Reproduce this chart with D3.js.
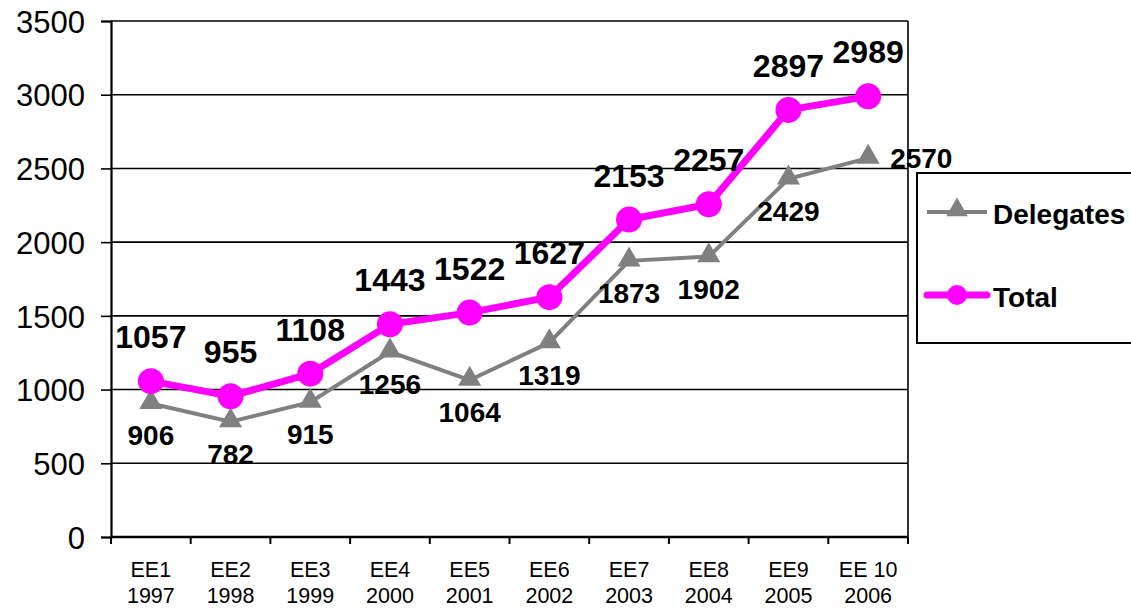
<!DOCTYPE html>
<html><head><meta charset="utf-8">
<script src="https://cdn.jsdelivr.net/npm/d3@7"></script>
<style>html,body{margin:0;padding:0;background:#fff}svg{display:block}</style>
</head><body>
<svg id="c" width="1131" height="610"></svg>
<script>
const editions = ["EE1", "EE2", "EE3", "EE4", "EE5", "EE6", "EE7", "EE8", "EE9", "EE 10"];
const years = ["1997", "1998", "1999", "2000", "2001", "2002", "2003", "2004", "2005", "2006"];
const delegates = [906, 782, 915, 1256, 1064, 1319, 1873, 1902, 2429, 2570];
const total = [1057, 955, 1108, 1443, 1522, 1627, 2153, 2257, 2897, 2989];
const yTicks = [0, 500, 1000, 1500, 2000, 2500, 3000, 3500];
const seriesNames = ["Delegates", "Total"];

const svg = d3.select("#c");
const L = 111, R = 908, T = 21, B = 537;
const font = "Liberation Sans, Arial, sans-serif";

const x = d3.scaleBand().domain(d3.range(editions.length)).range([L, R]);
const y = d3.scaleLinear().domain([0, 3500]).range([B, T]);
const cx = i => x(i) + x.bandwidth() / 2;

// gridlines
svg.append("g").selectAll("line").data(yTicks.filter(d => d > 0)).join("line")
  .attr("x1", L).attr("x2", R).attr("y1", d => y(d)).attr("y2", d => y(d))
  .attr("stroke", "#000").attr("stroke-width", 1.6);
// right border
svg.append("line").attr("x1", R).attr("x2", R).attr("y1", T).attr("y2", B)
  .attr("stroke", "#000").attr("stroke-width", 1.6);

// y axis
const ya = d3.axisLeft(y).tickValues(yTicks).tickFormat(d3.format("d")).tickSize(10).tickPadding(16);
const gy = svg.append("g").attr("transform", `translate(${L},0)`).call(ya);
gy.select(".domain").attr("stroke", "#000").attr("stroke-width", 2.2);
gy.selectAll(".tick line").attr("stroke", "#000").attr("stroke-width", 1.6);
gy.selectAll(".tick text").attr("font-family", font).attr("font-size", 31).attr("fill", "#000").attr("dy", "0.36em");

// x axis
const gx = svg.append("g").attr("transform", `translate(0,${B})`);
gx.append("line").attr("x1", L).attr("x2", R).attr("stroke", "#000").attr("stroke-width", 2.5);
gx.selectAll("line.tk").data(d3.range(editions.length + 1)).join("line").attr("class", "tk")
  .attr("x1", i => i < editions.length ? x(i) : R).attr("x2", i => i < editions.length ? x(i) : R)
  .attr("y1", 0).attr("y2", 7).attr("stroke", "#000").attr("stroke-width", 2);
const xl = gx.selectAll("text.xl").data(d3.range(editions.length)).join("text").attr("class", "xl")
  .attr("x", cx).attr("text-anchor", "middle").attr("font-family", font).attr("font-size", 21.5).attr("fill", "#000");
xl.append("tspan").attr("x", cx).attr("y", 40).text(i => editions[i]);
xl.append("tspan").attr("x", cx).attr("y", 66).text(i => years[i]);

const line = d3.line().x((d, i) => cx(i)).y(d => y(d));
const tri = d3.symbol().type(d3.symbolTriangle);

// delegates
svg.append("path").datum(delegates).attr("d", line).attr("fill", "none")
  .attr("stroke", "#808080").attr("stroke-width", 4);
svg.append("g").selectAll("path").data(delegates).join("path")
  .attr("d", tri.size(230)()).attr("transform", (d, i) => `translate(${cx(i)},${y(d) - 1})`)
  .attr("fill", "#808080");

// total
svg.append("path").datum(total).attr("d", line).attr("fill", "none")
  .attr("stroke", "#FF00FF").attr("stroke-width", 7);
svg.append("g").selectAll("circle").data(total).join("circle")
  .attr("cx", (d, i) => cx(i)).attr("cy", d => y(d)).attr("r", 13).attr("fill", "#FF00FF");

// labels
const last = delegates.length - 1;
svg.append("g").selectAll("text").data(delegates).join("text")
  .attr("x", (d, i) => i === last ? cx(i) + 22 : cx(i))
  .attr("y", (d, i) => i === last ? y(d) + 10 : y(d) + 42)
  .attr("text-anchor", (d, i) => i === last ? "start" : "middle")
  .attr("font-family", font).attr("font-weight", "bold").attr("font-size", 28).attr("fill", "#000")
  .text(d => d);
svg.append("g").selectAll("text").data(total).join("text")
  .attr("x", (d, i) => cx(i)).attr("y", d => y(d) - 33)
  .attr("text-anchor", "middle")
  .attr("font-family", font).attr("font-weight", "bold").attr("font-size", 32).attr("fill", "#000")
  .text(d => d);

// legend
const lg = svg.append("g");
lg.append("rect").attr("x", 917).attr("y", 173).attr("width", 230).attr("height", 170)
  .attr("fill", "#fff").attr("stroke", "#000").attr("stroke-width", 2);
lg.append("line").attr("x1", 927).attr("x2", 987).attr("y1", 212).attr("y2", 212)
  .attr("stroke", "#808080").attr("stroke-width", 4);
lg.append("path").attr("d", tri.size(200)()).attr("transform", "translate(957,210)").attr("fill", "#808080");
lg.append("line").attr("x1", 927).attr("x2", 987).attr("y1", 295).attr("y2", 295)
  .attr("stroke", "#FF00FF").attr("stroke-width", 7).attr("stroke-linecap", "round");
lg.append("circle").attr("cx", 957).attr("cy", 295).attr("r", 10).attr("fill", "#FF00FF");
lg.selectAll("text").data(seriesNames).join("text")
  .attr("x", 993).attr("y", (d, i) => i === 0 ? 224 : 307)
  .attr("font-family", font).attr("font-weight", "bold").attr("font-size", 28).attr("fill", "#000")
  .text(d => d);
</script>
</body></html>
